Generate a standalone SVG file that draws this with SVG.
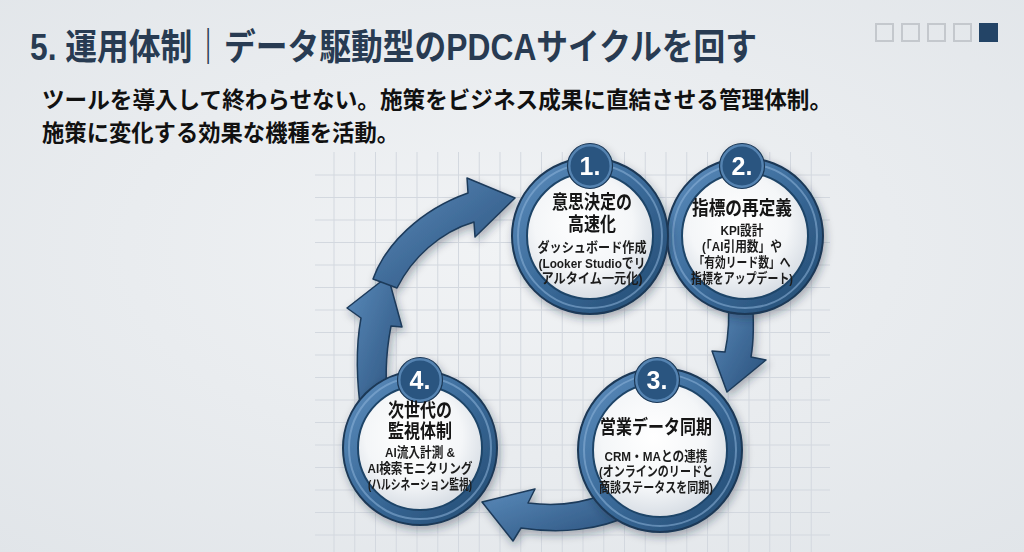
<svg xmlns="http://www.w3.org/2000/svg" width="1024" height="552" viewBox="0 0 1024 552">
<defs>
<radialGradient id="bg" cx="50%" cy="45%" r="75%">
<stop offset="0" stop-color="#f1f3f5"/>
<stop offset="1" stop-color="#e1e5e9"/>
</radialGradient>
<linearGradient id="ring" x1="0" y1="0" x2="1" y2="1">
<stop offset="0" stop-color="#5f8fbf"/>
<stop offset="0.5" stop-color="#3a6a99"/>
<stop offset="1" stop-color="#22496f"/>
</linearGradient>
<radialGradient id="disk" cx="45%" cy="40%" r="60%">
<stop offset="0" stop-color="#ffffff"/>
<stop offset="0.65" stop-color="#f4f6f8"/>
<stop offset="1" stop-color="#d8dee5"/>
</radialGradient>
<linearGradient id="arrow" x1="0" y1="0" x2="1" y2="1">
<stop offset="0" stop-color="#5a8aba"/>
<stop offset="1" stop-color="#284f7a"/>
</linearGradient>
<filter id="shadow" x="-20%" y="-20%" width="140%" height="140%">
<feDropShadow dx="2" dy="4" stdDeviation="4" flood-color="#1a2a3a" flood-opacity="0.35"/>
</filter>
<style>
.grid line{stroke:#d3d8df;stroke-width:1}
.jp{font-family:"Liberation Sans","Noto Sans CJK JP",sans-serif;font-weight:700}
.title{font-size:36px;fill:#283b52}
.sub{font-size:23px;fill:#111}
.body{text-anchor:middle;fill:#181818}
.nt{font-size:19px;fill:#121212}
.ns{font-size:13.5px;fill:#1c1c1c}
.ringo{fill:url(#ring);stroke:#1b3856;stroke-width:2}
.hl{fill:none;stroke:#8db3d8;stroke-width:2;opacity:0.55}
.diskc{fill:url(#disk);stroke:#1f4468;stroke-width:2}
.badge{fill:#2a5580;stroke:#5483b1;stroke-width:3}
.badgeo{fill:none;stroke:#1b3856;stroke-width:1.2}
.num{font-family:"Liberation Sans","Noto Sans",sans-serif;font-weight:700;font-size:25px;fill:#fff;text-anchor:middle}
.arr{fill:url(#arrow);stroke:#1c3a5a;stroke-width:1.5;stroke-linejoin:round}
.sq{fill:none;stroke:#c4c8cd;stroke-width:2}
</style>
</defs>

<g id="background">
<rect x="0" y="0" width="1024" height="552" fill="url(#bg)"/>
</g>

<g id="grid" class="grid">
<line x1="334" y1="152" x2="334" y2="552"/>
<line x1="354.75" y1="152" x2="354.75" y2="552"/>
<line x1="375.5" y1="152" x2="375.5" y2="552"/>
<line x1="396.25" y1="152" x2="396.25" y2="552"/>
<line x1="417" y1="152" x2="417" y2="552"/>
<line x1="437.75" y1="152" x2="437.75" y2="552"/>
<line x1="458.5" y1="152" x2="458.5" y2="552"/>
<line x1="479.25" y1="152" x2="479.25" y2="552"/>
<line x1="500" y1="152" x2="500" y2="552"/>
<line x1="520.75" y1="152" x2="520.75" y2="552"/>
<line x1="541.5" y1="152" x2="541.5" y2="552"/>
<line x1="562.25" y1="152" x2="562.25" y2="552"/>
<line x1="583" y1="152" x2="583" y2="552"/>
<line x1="603.75" y1="152" x2="603.75" y2="552"/>
<line x1="624.5" y1="152" x2="624.5" y2="552"/>
<line x1="645.25" y1="152" x2="645.25" y2="552"/>
<line x1="666" y1="152" x2="666" y2="552"/>
<line x1="686.75" y1="152" x2="686.75" y2="552"/>
<line x1="707.5" y1="152" x2="707.5" y2="552"/>
<line x1="728.25" y1="152" x2="728.25" y2="552"/>
<line x1="749" y1="152" x2="749" y2="552"/>
<line x1="769.75" y1="152" x2="769.75" y2="552"/>
<line x1="790.5" y1="152" x2="790.5" y2="552"/>
<line x1="811.25" y1="152" x2="811.25" y2="552"/>
<line x1="315" y1="175" x2="830" y2="175"/>
<line x1="315" y1="197.5" x2="830" y2="197.5"/>
<line x1="315" y1="220" x2="830" y2="220"/>
<line x1="315" y1="242.5" x2="830" y2="242.5"/>
<line x1="315" y1="265" x2="830" y2="265"/>
<line x1="315" y1="287.5" x2="830" y2="287.5"/>
<line x1="315" y1="310" x2="830" y2="310"/>
<line x1="315" y1="332.5" x2="830" y2="332.5"/>
<line x1="315" y1="355" x2="830" y2="355"/>
<line x1="315" y1="377.5" x2="830" y2="377.5"/>
<line x1="315" y1="400" x2="830" y2="400"/>
<line x1="315" y1="422.5" x2="830" y2="422.5"/>
<line x1="315" y1="445" x2="830" y2="445"/>
<line x1="315" y1="467.5" x2="830" y2="467.5"/>
<line x1="315" y1="490" x2="830" y2="490"/>
<line x1="315" y1="512.5" x2="830" y2="512.5"/>
<line x1="315" y1="535" x2="830" y2="535"/>
</g>

<g id="header">
<text class="jp title" x="30" y="60" textLength="727" lengthAdjust="spacingAndGlyphs">5. 運用体制｜データ駆動型のPDCAサイクルを回す</text>
<text class="jp sub" x="42" y="108" textLength="790" lengthAdjust="spacingAndGlyphs">ツールを導入して終わらせない。施策をビジネス成果に直結させる管理体制。</text>
<text class="jp sub" x="42" y="141" textLength="357" lengthAdjust="spacingAndGlyphs">施策に変化する効果な機種を活動。</text>
<rect class="sq" x="876" y="24" width="17" height="17"/>
<rect class="sq" x="902" y="24" width="17" height="17"/>
<rect class="sq" x="928" y="24" width="17" height="17"/>
<rect class="sq" x="954" y="24" width="17" height="17"/>
<rect x="979" y="23" width="19" height="19" fill="#234466"/>
</g>

<g id="connectors" filter="url(#shadow)">
<path class="arr" d="M362,420 C356,380 356,345 361,318 L347,308 L388,276 L402,327 L391,326 C386,352 384,380 389,410 Z"/>
<path class="arr" d="M373,279 C385,245 420,210 468,193 L467,178 L515,198 L475,237 L474,222 C440,232 412,258 397,288 Z"/>
<path class="arr" d="M728,295 C730,320 728,338 725,352 L712,351 L727,392 L766,360 L751,357 C754,340 754,320 752,295 Z"/>
<path class="arr" d="M602,495 C577,505 552,506 528,503 L535,489 L482,502 L513,541 L521,528 C560,534 600,530 630,515 Z"/>
</g>

<g id="node-4" filter="url(#shadow)">
<circle class="ringo" cx="420" cy="448" r="77"/>
<circle class="hl" cx="420" cy="448" r="71"/>
<circle class="diskc" cx="420" cy="448" r="62"/>
<circle class="badge" cx="420" cy="380" r="21"/>
<circle class="badgeo" cx="420" cy="380" r="22.5"/>
<text class="num" x="420" y="389">4.</text>
<text class="jp body"><tspan class="nt" x="420" y="416.7" textLength="64" lengthAdjust="spacingAndGlyphs">次世代の</tspan><tspan class="nt" x="420" y="438.2" textLength="64" lengthAdjust="spacingAndGlyphs">監視体制</tspan><tspan class="ns" x="420" y="457.1" textLength="70" lengthAdjust="spacingAndGlyphs">AI流入計測 &amp;</tspan><tspan class="ns" x="420" y="473.1" textLength="105" lengthAdjust="spacingAndGlyphs">AI検索モニタリング</tspan><tspan class="ns" x="420" y="489.1" textLength="104" lengthAdjust="spacingAndGlyphs">(ハルシネーション監視)</tspan></text>
</g>

<g id="node-3" filter="url(#shadow)">
<circle class="ringo" cx="660" cy="450" r="82"/>
<circle class="hl" cx="660" cy="450" r="76"/>
<circle class="diskc" cx="660" cy="450" r="67"/>
<circle class="badge" cx="657" cy="380" r="21"/>
<circle class="badgeo" cx="657" cy="380" r="22.5"/>
<text class="num" x="657" y="389">3.</text>
<text class="jp body"><tspan class="nt" x="656" y="434.2" textLength="112" lengthAdjust="spacingAndGlyphs">営業データ同期</tspan><tspan class="ns" x="656" y="460.6" textLength="103" lengthAdjust="spacingAndGlyphs">CRM・MAとの連携</tspan><tspan class="ns" x="656" y="476.1" textLength="114" lengthAdjust="spacingAndGlyphs">(オンラインのリードと</tspan><tspan class="ns" x="656" y="491.6" textLength="114" lengthAdjust="spacingAndGlyphs">商談ステータスを同期)</tspan></text>
</g>

<g id="node-2" filter="url(#shadow)">
<circle class="ringo" cx="745" cy="236" r="78"/>
<circle class="hl" cx="745" cy="236" r="72"/>
<circle class="diskc" cx="745" cy="236" r="63"/>
<circle class="badge" cx="742" cy="166" r="21"/>
<circle class="badgeo" cx="742" cy="166" r="22.5"/>
<text class="num" x="742" y="175">2.</text>
<text class="jp body"><tspan class="nt" x="742" y="215.2" textLength="100" lengthAdjust="spacingAndGlyphs">指標の再定義</tspan><tspan class="ns" x="742" y="234.6" textLength="43" lengthAdjust="spacingAndGlyphs">KPI設計</tspan><tspan class="ns" x="742" y="250.6" textLength="80" lengthAdjust="spacingAndGlyphs">(「AI引用数」や</tspan><tspan class="ns" x="742" y="266.6" textLength="97" lengthAdjust="spacingAndGlyphs">「有効リード数」へ</tspan><tspan class="ns" x="742" y="282.6" textLength="102" lengthAdjust="spacingAndGlyphs">指標をアップデート)</tspan></text>
</g>

<g id="node-1" filter="url(#shadow)">
<circle class="ringo" cx="590" cy="236" r="78"/>
<circle class="hl" cx="590" cy="236" r="72"/>
<circle class="diskc" cx="590" cy="236" r="63"/>
<circle class="badge" cx="590" cy="166" r="21"/>
<circle class="badgeo" cx="590" cy="166" r="22.5"/>
<text class="num" x="590" y="175">1.</text>
<text class="jp body"><tspan class="nt" x="592" y="209.2" textLength="80" lengthAdjust="spacingAndGlyphs">意思決定の</tspan><tspan class="nt" x="592" y="230.7" textLength="48" lengthAdjust="spacingAndGlyphs">高速化</tspan><tspan class="ns" x="592" y="252.1" textLength="109" lengthAdjust="spacingAndGlyphs">ダッシュボード作成</tspan><tspan class="ns" x="592" y="267.6" textLength="107" lengthAdjust="spacingAndGlyphs">(Looker Studioでリ</tspan><tspan class="ns" x="592" y="283.1" textLength="101" lengthAdjust="spacingAndGlyphs">アルタイム一元化)</tspan></text>
</g>
</svg>
